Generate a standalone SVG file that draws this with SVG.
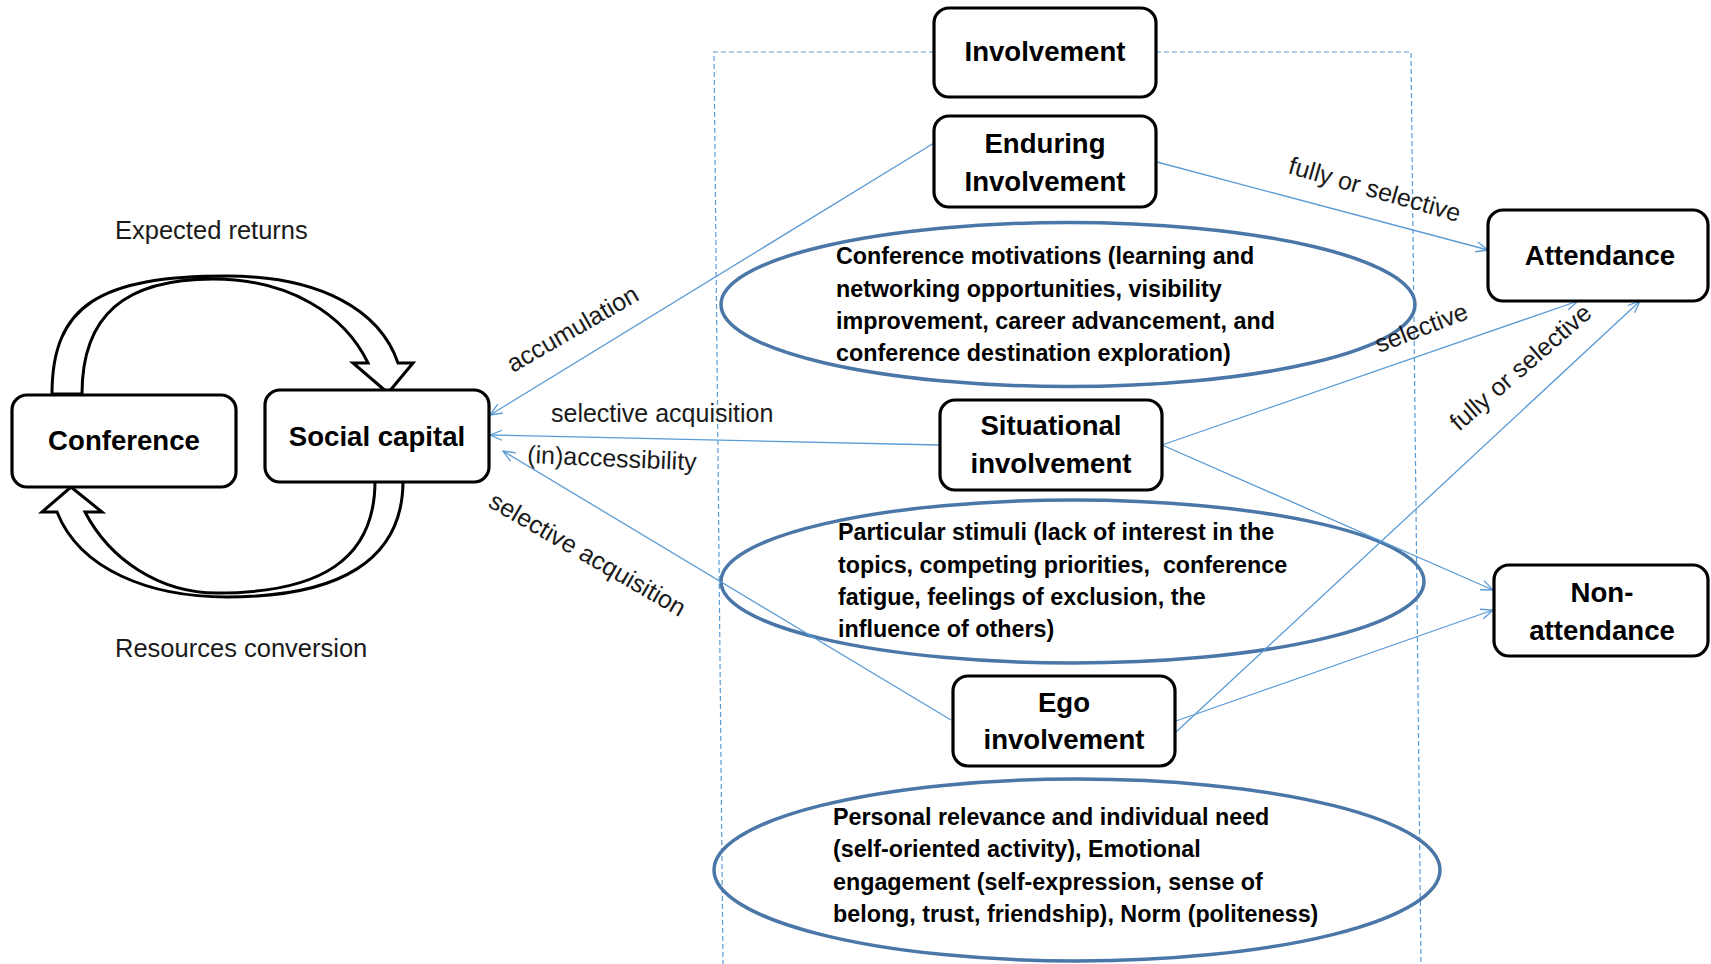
<svg xmlns="http://www.w3.org/2000/svg" width="1711" height="964" viewBox="0 0 1711 964">
<defs>
<style>
.box{fill:#fff;stroke:#000;stroke-width:3.2}
.blk{fill:#fff;stroke:#000;stroke-width:3}
.ell{fill:none;stroke:#4A77A8;stroke-width:3.5}
.dash{fill:none;stroke:#5B9BD5;stroke-width:1.2;stroke-dasharray:5 3}
.con{fill:none;stroke:#5B9BD5;stroke-width:1.3;marker-end:url(#ah)}
.bt{font-family:"Liberation Sans",Arial,sans-serif;font-weight:bold;font-size:27.6px;fill:#000;text-anchor:middle}
.et{font-family:"Liberation Sans",Arial,sans-serif;font-weight:bold;font-size:23.3px;fill:#000}
.lb{font-family:"Liberation Sans",Arial,sans-serif;font-size:25px;fill:#1a1a1a}
</style>
<marker id="ah" markerUnits="userSpaceOnUse" markerWidth="14" markerHeight="12" refX="12" refY="5" orient="auto" viewBox="-1 -1 14 12">
<path d="M0,0 L12,5 L0,10" fill="none" stroke="#5B9BD5" stroke-width="1.3"/>
</marker>
</defs>
<rect width="1711" height="964" fill="#fff"/>

<g id="frame">
<path class="dash" d="M934,52 L714,52 L723,964"/>
<path class="dash" d="M1156,52 L1411,52 L1421,964"/>
</g>

<g id="cycle">
<path class="blk" d="M52,394 C52,305 100,276 227,276 C320,276 380,310 398,363 L413,363 L388,393 L353,363 L368,363 C345,315 290,279 213,279 C125,279 82,315 82,394 Z"/>
<path class="blk" d="M403,481 C403,560 340,597 227,597 C150,597 80,570 57,512 L42,512 L71,487 L102,512 L85,512 C110,560 160,593 217,593 C320,593 375,560 375,481 Z"/>
<text class="lb" x="115" y="239" style="font-size:25.5px">Expected returns</text>
<text class="lb" x="115" y="657" style="font-size:25.5px">Resources conversion</text>
</g>

<g id="motivations">
<ellipse class="ell" cx="1068" cy="304.5" rx="347" ry="82"/>
<text class="et"><tspan x="836" y="264">Conference motivations (learning and</tspan><tspan x="836" y="297">networking opportunities, visibility</tspan><tspan x="836" y="329">improvement, career advancement, and</tspan><tspan x="836" y="361">conference destination exploration)</tspan></text>
</g>
<g id="stimuli">
<ellipse class="ell" cx="1072.5" cy="581.5" rx="351.5" ry="81.5"/>
<text class="et"><tspan x="838" y="540">Particular stimuli (lack of interest in the</tspan><tspan x="838" y="573">topics, competing priorities,&#160; conference</tspan><tspan x="838" y="605">fatigue, feelings of exclusion, the</tspan><tspan x="838" y="637">influence of others)</tspan></text>
</g>
<g id="relevance">
<ellipse class="ell" cx="1077" cy="870" rx="363" ry="91"/>
<text class="et"><tspan x="833" y="825">Personal relevance and individual need</tspan><tspan x="833" y="857">(self-oriented activity), Emotional</tspan><tspan x="833" y="890">engagement (self-expression, sense of</tspan><tspan x="833" y="922">belong, trust, friendship), Norm (politeness)</tspan></text>
</g>

<g id="connectors">
<line class="con" x1="934" y1="143" x2="490" y2="415"/>
<line class="con" x1="939" y1="445" x2="490" y2="435"/>
<line class="con" x1="951" y1="720" x2="503" y2="451"/>
<line class="con" x1="1157" y1="162" x2="1488" y2="250"/>
<line class="con" x1="1162" y1="445" x2="1578" y2="301"/>
<line class="con" x1="1162" y1="445" x2="1493" y2="590"/>
<line class="con" x1="1176" y1="732" x2="1640" y2="301"/>
<line class="con" x1="1176" y1="721" x2="1493" y2="610"/>
<text class="lb" x="513" y="373" transform="rotate(-30 513 373)">accumulation</text>
<text class="lb" x="551" y="422">selective acquisition</text>
<text class="lb" x="527" y="463" transform="rotate(2.5 527 463)">(in)accessibility</text>
<text class="lb" x="487" y="506" transform="rotate(30 487 506)">selective acquisition</text>
<text class="lb" x="1287" y="173" transform="rotate(16 1287 173)">fully or selective</text>
<text class="lb" x="1379" y="353" transform="rotate(-21 1379 353)">selective</text>
<text class="lb" x="1459" y="432" transform="rotate(-41 1459 432)">fully or selective</text>
</g>

<g id="conference">
<rect class="box" x="12" y="395" width="224" height="92" rx="15"/>
<text class="bt" x="124" y="450">Conference</text>
</g>
<g id="social-capital">
<rect class="box" x="265" y="390" width="224" height="92" rx="15"/>
<text class="bt" x="377" y="446">Social capital</text>
</g>
<g id="involvement">
<rect class="box" x="934" y="8" width="222" height="89" rx="15"/>
<text class="bt" x="1045" y="61">Involvement</text>
</g>
<g id="enduring">
<rect class="box" x="934" y="116" width="222" height="91" rx="15"/>
<text class="bt"><tspan x="1045" y="153">Enduring</tspan><tspan x="1045" y="191">Involvement</tspan></text>
</g>
<g id="situational">
<rect class="box" x="940" y="400" width="222" height="90" rx="15"/>
<text class="bt"><tspan x="1051" y="435">Situational</tspan><tspan x="1051" y="473">involvement</tspan></text>
</g>
<g id="ego">
<rect class="box" x="953" y="676" width="222" height="90" rx="15"/>
<text class="bt"><tspan x="1064" y="712">Ego</tspan><tspan x="1064" y="749">involvement</tspan></text>
</g>
<g id="attendance">
<rect class="box" x="1488" y="210" width="220" height="91" rx="15"/>
<text class="bt" x="1600" y="265">Attendance</text>
</g>
<g id="non-attendance">
<rect class="box" x="1494" y="565" width="214" height="91" rx="15"/>
<text class="bt"><tspan x="1602" y="602">Non-</tspan><tspan x="1602" y="640">attendance</tspan></text>
</g>
</svg>
